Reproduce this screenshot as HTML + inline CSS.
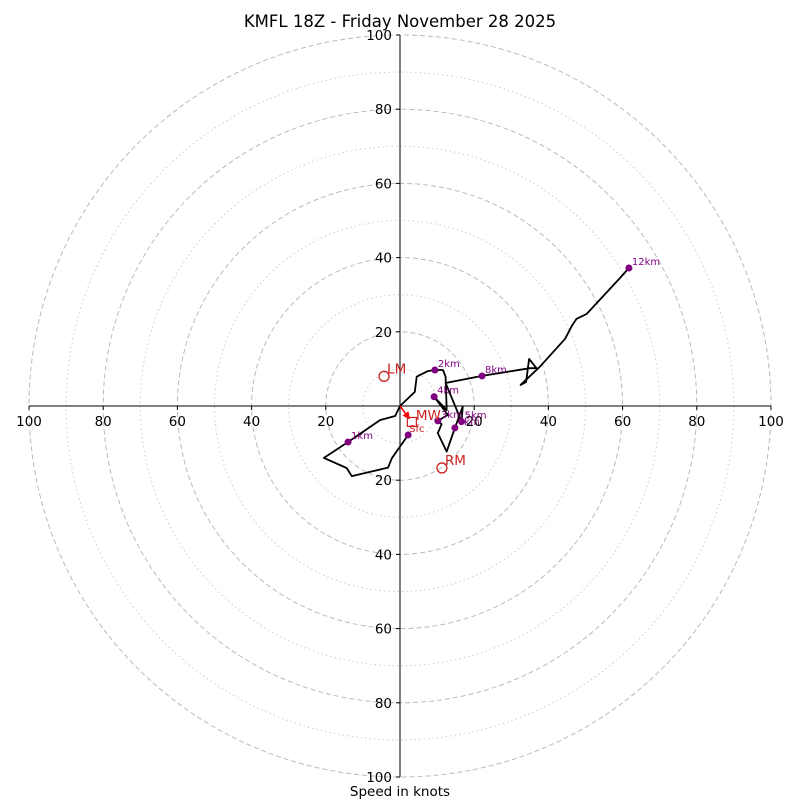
<!DOCTYPE html>
<html><head><meta charset="utf-8"><style>
body{margin:0;background:#fff}
svg{display:block;font-family:"DejaVu Sans","Liberation Sans",sans-serif}
</style></head><body>
<svg id="c" width="800" height="800" viewBox="0 0 800 800" xmlns="http://www.w3.org/2000/svg">
<defs><marker id="ah" viewBox="0 0 10 10" refX="9" refY="5" markerWidth="5" markerHeight="5" orient="auto"><path d="M0,0 L10,5 L0,10 z" fill="red"/></marker></defs>
<text x="400" y="27" font-size="16.5" text-anchor="middle">KMFL 18Z - Friday November 28 2025</text>
<text x="400" y="796" font-size="13.5" text-anchor="middle">Speed in knots</text>
</svg>
<script>
const ringsDashed=[20,40,60,80,100];
const ringsDotted=[10,30,50,70,90];
const tickVals=[100,80,60,40,20,20,40,60,80,100];
const tickPos=[-100,-80,-60,-40,-20,20,40,60,80,100];
const pathU=[2.2,-2.2,-3.2,-13.0,-14.4,-20.5,-14.0,-5.4,-1.3,0,4.0,4.5,7.5,9.4,11.6,12.3,12.6,9.2,12.9,10.2,11.2,10.2,12.6,14.8,16.9,16.6,12.3,22.1,35.0,36.8,34.8,34.0,32.5,37.7,44.5,46.3,47.6,50.3,59.3,61.7];
const pathV=[-7.8,-14.1,-16.6,-18.9,-16.7,-14.0,-9.7,-3.8,-2.7,0,3.8,7.9,9.4,9.7,9.7,7.9,-1.1,2.5,-2.4,-4.0,-4.9,-7.3,-12.3,-5.9,-0.2,-4.2,6.2,8.1,10.2,10.2,12.7,6.5,5.7,10.6,18.1,21.6,23.5,24.8,34.5,37.2];
const markLabels=["Sfc","1km","2km","3km","4km","5km","6km","8km","12km"];
const markU=[2.2,-14.0,9.4,10.2,9.2,16.6,14.8,22.1,61.7];
const markV=[-7.8,-9.7,9.7,-4.0,2.5,-4.2,-5.9,8.1,37.2];
const lm=[-4.3,8.0], rm=[11.3,-16.7], mw=[3.2,-4.3];
const cx=400,cy=406,k=3.71;
const X=u=>cx+u*k, Y=v=>cy-v*k;
const svg=document.getElementById('c');
const NS='http://www.w3.org/2000/svg';
function mk(t,a){const e=document.createElementNS(NS,t);for(const n in a)e.setAttribute(n,a[n]);svg.appendChild(e);return e;}
ringsDotted.forEach(r=>{const e=mk('circle',{cx:cx,cy:cy,r:r*k,fill:'none',stroke:'#ccc','stroke-dasharray':'1.5,3'});

});
ringsDashed.forEach(r=>{const e=mk('circle',{cx:cx,cy:cy,r:r*k,fill:'none',stroke:'#bbb','stroke-dasharray':'5,3'});

});
let ax=mk('line',{x1:X(-100),y1:cy,x2:X(100),y2:cy,stroke:'#000'});


let ay=mk('line',{x1:cx,y1:Y(100),x2:cx,y2:Y(-100),stroke:'#000'});


tickPos.forEach((p,i)=>{
 mk('line',{x1:X(p),y1:cy,x2:X(p),y2:cy+4,stroke:'#000'});
 let t=mk('text',{x:X(p),y:cy+20,'font-size':13.5,'text-anchor':'middle'});t.textContent=tickVals[i];
 
 
 mk('line',{x1:cx-4,y1:Y(p),x2:cx,y2:Y(p),stroke:'#000'});
 let s=mk('text',{x:cx-8,y:Y(p)+5,'font-size':13.5,'text-anchor':'end'});s.textContent=tickVals[tickVals.length-1-i];
 
 
});
let pts=pathU.map((u,i)=>X(u).toFixed(1)+','+Y(pathV[i]).toFixed(1)).join(' ');
let pl=mk('polyline',{points:pts,fill:'none',stroke:'#000','stroke-width':1.8,'stroke-linejoin':'round'});


markU.forEach((u,i)=>{
 let c=mk('circle',{cx:X(u),cy:Y(markV[i]),r:3.5,fill:'purple'});
 
 
 if(i>0){let t=mk('text',{x:X(u)+3,y:Y(markV[i])-3,'font-size':10,fill:'purple'});t.textContent=markLabels[i];
 
 }
});
let a=mk('line',{x1:cx,y1:cy,x2:X(mw[0]*0.8),y2:Y(mw[1]*0.8),stroke:'red','stroke-width':1.5,'marker-end':'url(#ah)'});


let sq=mk('rect',{x:X(mw[0])-4.5,y:Y(mw[1])-4.5,width:9,height:9,fill:'none',stroke:'#c22','stroke-width':1.2});


let t1=mk('text',{x:X(mw[0])+4,y:Y(mw[1])-2,'font-size':13.5,fill:'#c22'});t1.textContent='MW';


let t2=mk('text',{x:X(markU[0])+1,y:Y(markV[0])-3,'font-size':10,fill:'#c22'});t2.textContent='Sfc';


[[lm,'LM'],[rm,'RM']].forEach(([p,l])=>{
 let c=mk('circle',{cx:X(p[0]),cy:Y(p[1]),r:5,fill:'none',stroke:'#c22','stroke-width':1.3});
 
 
 let t=mk('text',{x:X(p[0])+3,y:Y(p[1])-3,'font-size':13.5,fill:'#c22'});t.textContent=l;
 
 
});
</script>
</body></html>
